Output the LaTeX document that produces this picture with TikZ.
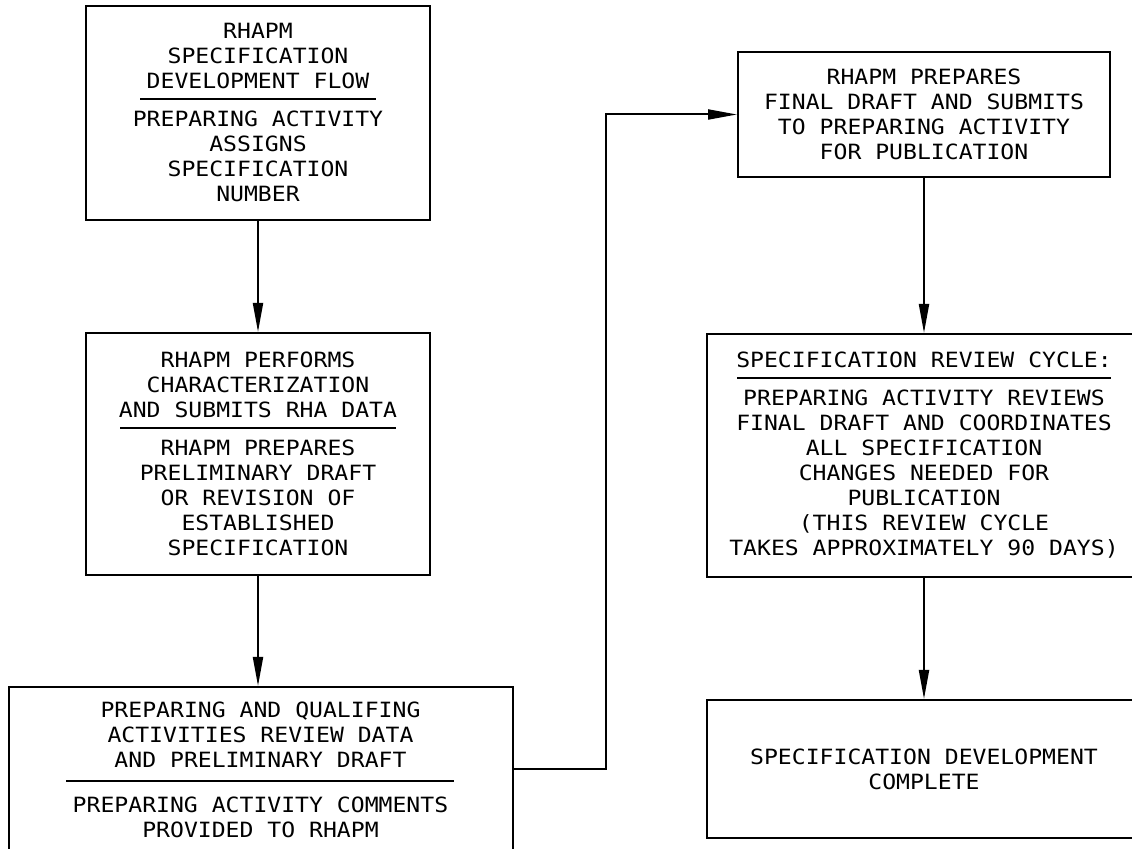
\documentclass[tikz,border=0pt]{standalone}
\usepackage{fontspec}
\newfontfamily\plotfont[FakeStretch=1.1]{DejaVu Sans Mono}
\usetikzlibrary{arrows.meta}
\newcommand{\sepline}[3]{\\[#2]\rule{#1}{0.9pt}\\[#3]}
\tikzset{
  flowbox/.style={draw, line width=1pt, inner sep=0pt, align=center,
    font=\plotfont\fontsize{10.5pt}{12.5pt}\selectfont},
  flowarrow/.style={line width=1pt, -{Triangle[length=14.5pt,width=5pt]}}
}

\begin{document}
\begin{tikzpicture}[x=0.5pt, y=-0.5pt]
  \useasboundingbox (0,0) rectangle (1132,849);
  \clip (0,0) rectangle (1132,849);

  % left column
  \node[flowbox, minimum width=172pt, minimum height=107pt] (spec) at (258,113)
    {RHAPM\\SPECIFICATION\\DEVELOPMENT FLOW\sepline{118pt}{-7pt}{1pt}PREPARING ACTIVITY\\ASSIGNS\\SPECIFICATION\\NUMBER};
  \node[flowbox, minimum width=172pt, minimum height=121pt] (rha) at (258,454)
    {RHAPM PERFORMS\\CHARACTERIZATION\\AND SUBMITS RHA DATA\sepline{138pt}{-7pt}{1pt}RHAPM PREPARES\\PRELIMINARY DRAFT\\OR REVISION OF\\ESTABLISHED\\SPECIFICATION};
  \node[flowbox, minimum width=252pt, minimum height=82.5pt] (review) at (260.5,769.5)
    {PREPARING AND QUALIFING\\ACTIVITIES REVIEW DATA\\AND PRELIMINARY DRAFT\sepline{194pt}{-5pt}{2.5pt}PREPARING ACTIVITY COMMENTS\\PROVIDED TO RHAPM};

  % right column
  \node[flowbox, minimum width=186pt, minimum height=62.5pt] (final) at (924,114.5)
    {RHAPM PREPARES\\FINAL DRAFT AND SUBMITS\\TO PREPARING ACTIVITY\\FOR PUBLICATION};
  \node[flowbox, minimum width=217pt, minimum height=121.5pt] (cycle) at (924,455.5)
    {SPECIFICATION REVIEW CYCLE:\sepline{187pt}{-7pt}{1pt}PREPARING ACTIVITY REVIEWS\\FINAL DRAFT AND COORDINATES\\ALL SPECIFICATION\\CHANGES NEEDED FOR\\PUBLICATION\\(THIS REVIEW CYCLE\\TAKES APPROXIMATELY 90 DAYS)};
  \node[flowbox, minimum width=217pt, minimum height=69pt] (done) at (924,769)
    {SPECIFICATION DEVELOPMENT\\COMPLETE};

  % arrows
  \coordinate (bend) at (606,769.5);
  \draw[flowarrow] (spec.south) -- (rha.north);
  \draw[flowarrow] (rha.south) -- (rha.south |- review.north);
  \draw[flowarrow] (review.east) -- (bend) |- (final.west);
  \draw[flowarrow] (final.south) -- (cycle.north);
  \draw[flowarrow] (cycle.south) -- (done.north);
\end{tikzpicture}
\end{document}
